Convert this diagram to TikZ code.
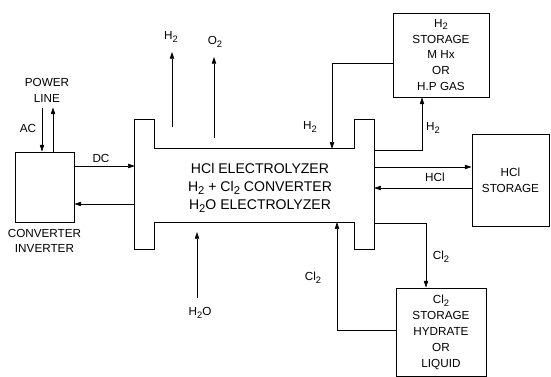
\documentclass[tikz,border=0pt]{standalone}
\usepackage{fontspec}
\usepackage{graphicx}
\setmainfont{Liberation Sans}
\usetikzlibrary{arrows.meta,calc,positioning}
\newcommand\lsub[1]{\raisebox{-0.45ex}{\scalebox{0.8}{#1}}}

\begin{document}
\begin{tikzpicture}[
  x=0.03cm, y=-0.03cm,
  font=\fontsize{10}{13.6}\selectfont,
  box/.style={draw=black, line width=0.8pt, align=center, inner sep=0pt},
  lbl/.style={align=center, inner sep=1pt},
  arrow/.style={-{Triangle[length=2mm, width=1.3mm]}, line width=0.5pt}
]
  \useasboundingbox (0,0) rectangle (551,377);

  % storage and power boxes
  \node[box, minimum width=1.77cm, minimum height=2.1cm] (conv) at (44.5,187) {};
  \node[lbl, below=1.5mm of conv] (convtext) {CONVERTER\\INVERTER};
  \node[box, minimum width=2.88cm, minimum height=2.52cm] (h2store) at (441,55)
    {H\lsub{2}\\STORAGE\\M Hx\\OR\\H.P GAS};
  \node[box, minimum width=2.31cm, minimum height=2.76cm] (hclstore) at (510.5,180)
    {HCl\\STORAGE};
  \node[box, minimum width=2.7cm, minimum height=2.64cm] (clstore) at (441,332)
    {Cl\lsub{2}\\STORAGE\\HYDRATE\\OR\\LIQUID};

  % electrolyzer body with flanges
  \node[minimum width=7.17cm, minimum height=2.19cm, inner sep=0pt] (elec) at (254.5,185.5) {};
  \draw[line width=0.8pt] (elec.north west) -- ++(0,-29) -- ++(20,0) -- ++(0,29)
    -- ($(elec.north east)+(-20,0)$) -- ++(0,-29) -- ++(20,0)
    -- ($(elec.south east)+(0,27)$) -- ++(-20,0) -- ++(0,-27)
    -- ($(elec.south west)+(20,0)$) -- ++(0,27) -- ++(-20,0) -- cycle;
  \node[lbl, font=\fontsize{12}{15.3}\selectfont] (electext) at (260,188)
    {HCl ELECTROLYZER\\H\lsub{2} + Cl\lsub{2} CONVERTER\\H\lsub{2}O ELECTROLYZER};

  % free labels
  \node[lbl] (power) at (47,90) {POWER\\LINE};
  \node[lbl] (ac) at (28,128) {AC};
  \node[lbl] (dc) at (101,158) {DC};
  \node[lbl] (h2top) at (171,37) {H\lsub{2}};
  \node[lbl] (o2top) at (215,42) {O\lsub{2}};
  \node[lbl] (h2in) at (310,127) {H\lsub{2}};
  \node[lbl] (h2out) at (433,128) {H\lsub{2}};
  \node[lbl] (hcl) at (435,177) {HCl};
  \node[lbl] (clout) at (441,257) {Cl\lsub{2}};
  \node[lbl] (clin) at (313,278) {Cl\lsub{2}};
  \node[lbl] (h2o) at (200,313) {H\lsub{2}O};

  \coordinate (h2src) at (172,127);
  \coordinate (o2src) at (214,138);
  \coordinate (h2osrc) at (197,298);
  \coordinate (dcout) at ($(conv.east)+(0,-21)$);
  \coordinate (dcret) at ($(elec.west)+(0,18.5)$);
  \coordinate (hclout) at ($(elec.east)+(0,-18.5)$);
  \coordinate (hclin) at ($(hclstore.west)+(0,8)$);

  \draw[arrow] ($(conv.north)+(-2.5,-44)$) -- ($(conv.north)+(-2.5,0)$);
  \draw[arrow] ($(conv.north)+(8.5,0)$) -- ($(conv.north)+(8.5,-44)$);
  \draw[arrow] (dcout) -- (dcout -| elec.west);
  \draw[arrow] (dcret) -- (dcret -| conv.east);
  \draw[arrow] (h2src) -- ++(0,-75);
  \draw[arrow] (o2src) -- ++(0,-81);
  \draw[arrow] (h2osrc) -- ++(0,-66);
  \draw[arrow] ($(h2store.west)+(0,8)$) -| ($(elec.north)+(77.5,0)$);
  \draw[arrow] ($(elec.east)+(0,-35.5)$) -| ($(h2store.south)+(-19,0)$);
  \draw[arrow] (hclout) -- (hclout -| hclstore.west);
  \draw[arrow] (hclin) -- (hclin -| elec.east);
  \draw[arrow] ($(elec.east)+(0,37.5)$) -| ($(clstore.north)+(-15,0)$);
  \draw[arrow] ($(clstore.west)+(0,-2)$) -| ($(elec.south)+(82.5,0)$);
\end{tikzpicture}
\end{document}
